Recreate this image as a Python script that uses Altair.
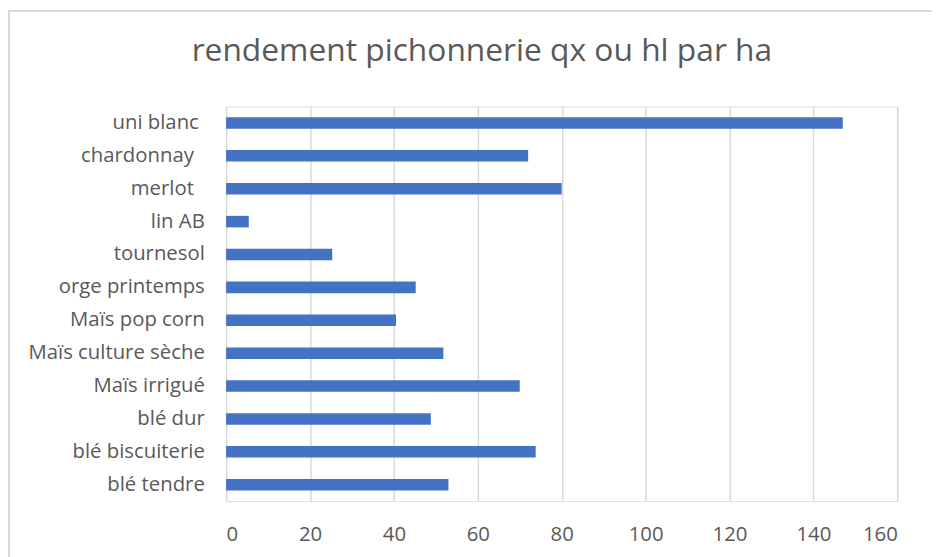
import altair as alt
import pandas as pd

categories = [
    "uni blanc",
    "chardonnay",
    "merlot",
    "lin AB",
    "tournesol",
    "orge printemps",
    "Maïs pop corn",
    "Maïs culture sèche",
    "Maïs irrigué",
    "blé dur",
    "blé biscuiterie",
    "blé tendre",
]
values = [147, 72, 80, 5.4, 25.3, 45.2, 40.5, 51.8, 70, 48.8, 73.8, 53]
x_ticks = [0, 20, 40, 60, 80, 100, 120, 140, 160]

df = pd.DataFrame({"culture": categories, "rendement": values})

FONT = "Open Sans"
GREY = "#595959"

# labels that carried trailing spaces in the source sheet sit a little further left
label_padding = {
    "condition": [
        {"test": "datum.value === 'uni blanc'", "value": 28},
        {"test": "datum.value === 'chardonnay' || datum.value === 'merlot'", "value": 33},
    ],
    "value": 22,
}

bars = alt.Chart(df).mark_bar(color="#4472C4").encode(
    x=alt.X(
        "rendement:Q",
        scale=alt.Scale(domain=[0, 160], nice=False, zero=True),
        axis=alt.Axis(
            values=x_ticks,
            title=None,
            grid=True,
            gridColor="#d9d9d9",
            gridWidth=1.5,
            domain=False,
            ticks=False,
            tickSize=0,
            labelFont=FONT,
            labelFontSize=20.5,
            labelColor=GREY,
            labelPadding=24,
        ),
    ),
    y=alt.Y(
        "culture:N",
        sort=None,
        scale=alt.Scale(paddingInner=0.65, paddingOuter=0.325),
        axis=alt.Axis(
            title=None,
            domain=False,
            ticks=False,
            tickSize=0,
            grid=False,
            labelFont=FONT,
            labelFontSize=20.5,
            labelColor=GREY,
            labelPadding=label_padding,
        ),
    ),
)

frame = alt.Chart(df).mark_rect(
    fill=None, stroke="#d9d9d9", strokeWidth=1.5
).encode(
    x=alt.value(-219.25),
    x2=alt.value(725),
    y=alt.value(-96.25),
    y2=alt.value(500),
)

chart = (
    alt.layer(frame, bars)
    .properties(
        width=677,
        height=398,
        title=alt.TitleParams(
            text="rendement pichonnerie qx ou hl par ha",
            font=FONT,
            fontSize=32,
            fontWeight="normal",
            color=GREY,
            anchor="middle",
            frame="group",
            baseline="alphabetic",
            dx=-80.5,
            offset=-83,
        ),
        autosize=alt.AutoSizeParams(type="none"),
        padding={"left": 220, "top": 97, "right": 35, "bottom": 54},
    )
    .configure_view(stroke=None)
    .configure(background="white")
)

chart.save("out.html", embed_options={"renderer": "svg", "actions": False})
